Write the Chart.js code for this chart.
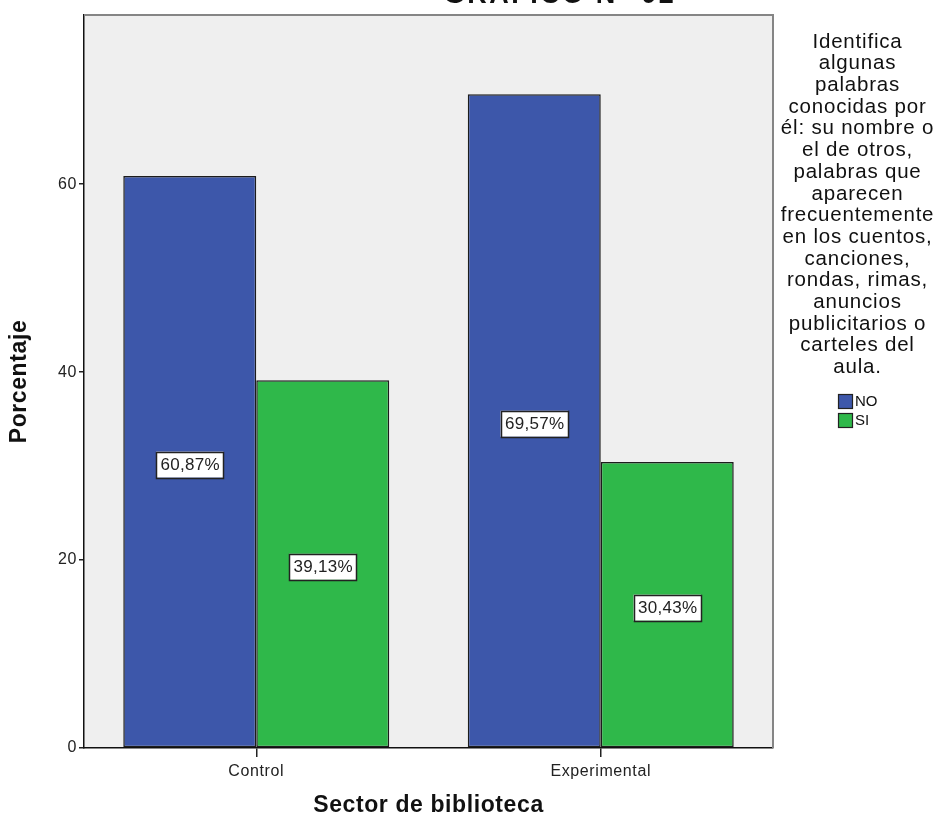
<!DOCTYPE html>
<html>
<head>
<meta charset="utf-8">
<title>Gráfico N° 02</title>
<script src="https://cdn.jsdelivr.net/npm/chart.js@4.4.1/dist/chart.umd.min.js"></script>
<style>
  html, body { margin: 0; padding: 0; background: #fff; }
  #wrap { width: 940px; height: 823px; position: relative; }
</style>
</head>
<body>
<div id="wrap"><canvas id="myChart" width="940" height="823"></canvas></div>
<script>
// data
const categories = ['Control', 'Experimental'];
const seriesNames = ['NO', 'SI'];
const noValues = [60.87, 69.57];
const siValues = [39.13, 30.43];
const yTicks = [0, 20, 40, 60];
const yMax = 78;
const chartTitle = 'GRÁFICO N° 02';
const legendTitle = [
  'Identifica', 'algunas', 'palabras', 'conocidas por', 'él: su nombre o',
  'el de otros,', 'palabras que', 'aparecen', 'frecuentemente', 'en los cuentos,',
  'canciones,', 'rondas, rimas,', 'anuncios', 'publicitarios o', 'carteles del', 'aula.'
];

const FONT = "'Liberation Sans', Arial, sans-serif";
const blue = '#3d57aa';
const green = '#2fb84a';

// gray plot background, frame, title, legend and value boxes
const spssPlugin = {
  id: 'spss',
  beforeDraw(chart) {
    const { ctx, chartArea: a } = chart;
    ctx.letterSpacing = '0.6px';
    ctx.save();
    ctx.fillStyle = '#efefef';
    ctx.fillRect(a.left, a.top, a.right - a.left, a.bottom - a.top);
    ctx.restore();
  },
  afterDraw(chart) {
    const { ctx, chartArea: a } = chart;
    ctx.save();
    // top and right frame
    ctx.strokeStyle = '#858585';
    ctx.lineWidth = 2;
    ctx.beginPath();
    ctx.moveTo(a.left, a.top);
    ctx.lineTo(a.right, a.top);
    ctx.lineTo(a.right, a.bottom);
    ctx.stroke();

    // title, mostly cut off at the top
    ctx.fillStyle = '#111';
    ctx.font = 'bold 27px ' + FONT;
    ctx.letterSpacing = '2.5px';
    ctx.textAlign = 'center';
    ctx.textBaseline = 'alphabetic';
    ctx.fillText(chartTitle, 560, 3);

    // legend
    ctx.letterSpacing = '0.8px';
    ctx.font = '20.5px ' + FONT;
    ctx.textBaseline = 'middle';
    ctx.fillStyle = '#111';
    const cx = (a.right + chart.width) / 2 + 1;
    legendTitle.forEach((line, i) => {
      ctx.fillText(line, cx, 42 + i * 21.7);
    });
    ctx.textAlign = 'left';
    ctx.font = '15px ' + FONT;
    ctx.letterSpacing = '0px';
    chart.data.datasets.forEach((ds, i) => {
      const y = 401 + i * 19;
      ctx.fillStyle = ds.backgroundColor;
      ctx.fillRect(838, y - 7, 15, 15);
      ctx.strokeStyle = '#222';
      ctx.lineWidth = 1.2;
      ctx.strokeRect(838.5, y - 6.5, 14, 14);
      ctx.fillStyle = '#111';
      ctx.fillText(ds.label, 855, y + 1);
    });

    // value boxes in the middle of each bar
    ctx.font = '17px ' + FONT;
    ctx.letterSpacing = '0.3px';
    ctx.textAlign = 'center';
    ctx.textBaseline = 'middle';
    chart.data.datasets.forEach((ds, di) => {
      chart.getDatasetMeta(di).data.forEach((bar, j) => {
        const txt = ds.data[j].toFixed(2).replace('.', ',') + '%';
        const w = ctx.measureText(txt).width + 8;
        const h = 26;
        const x = bar.x;
        const y = (bar.y + bar.base) / 2 + 3;
        ctx.fillStyle = '#fff';
        ctx.fillRect(x - w / 2, y - h / 2, w, h);
        ctx.strokeStyle = '#222';
        ctx.lineWidth = 1.5;
        ctx.strokeRect(Math.round(x - w / 2) + 0.5, Math.round(y - h / 2) + 0.5, Math.round(w), h);
        ctx.fillStyle = '#222';
        ctx.fillText(txt, x + 0.5, y + 1);
      });
    });
    ctx.restore();
  }
};

const myChartRef = document.getElementById('myChart').getContext('2d');

new Chart(myChartRef, {
  type: 'bar',
  data: {
    labels: categories,
    datasets: [
      {
        label: seriesNames[0],
        data: noValues,
        backgroundColor: blue,
        borderColor: '#1c1c1c',
        borderWidth: 1.5,
        borderSkipped: false
      },
      {
        label: seriesNames[1],
        data: siValues,
        backgroundColor: green,
        borderColor: '#1c1c1c',
        borderWidth: 1.5,
        borderSkipped: false
      }
    ]
  },
  options: {
    responsive: false,
    animation: false,
    devicePixelRatio: 1,
    layout: { padding: { top: 15, right: 167, left: 0, bottom: 0 } },
    datasets: {
      bar: { categoryPercentage: 0.772, barPercentage: 1 }
    },
    plugins: {
      legend: { display: false },
      title: { display: false },
      tooltip: { enabled: false }
    },
    scales: {
      x: {
        grid: { offset: false, drawOnChartArea: false, drawTicks: true, tickLength: 9, color: '#222', lineWidth: 1.5 },
        border: { display: true, color: '#111', width: 1.5 },
        ticks: { color: '#222', padding: 5, font: { family: FONT, size: 16 } },
        title: {
          display: true,
          text: 'Sector de biblioteca',
          color: '#111',
          font: { family: FONT, size: 23, weight: 'bold' },
          padding: { top: 0, bottom: 4 }
        },
        afterFit(scale) { scale.height = 75; }
      },
      y: {
        min: 0,
        max: yMax,
        ticks: { stepSize: 20, color: '#222', padding: 2, font: { family: FONT, size: 16 } },
        afterBuildTicks(scale) {
          scale.ticks = yTicks.map(v => ({ value: v }));
        },
        grid: { drawOnChartArea: false, drawTicks: true, tickLength: 5, color: '#222', lineWidth: 1.5 },
        border: { display: true, color: '#111', width: 1.5 },
        title: {
          display: true,
          text: 'Porcentaje',
          color: '#111',
          font: { family: FONT, size: 23, weight: 'bold' },
          padding: { top: 6, bottom: 0 }
        },
        afterFit(scale) { scale.width = 84; }
      }
    }
  },
  plugins: [spssPlugin]
});
</script>
</body>
</html>
